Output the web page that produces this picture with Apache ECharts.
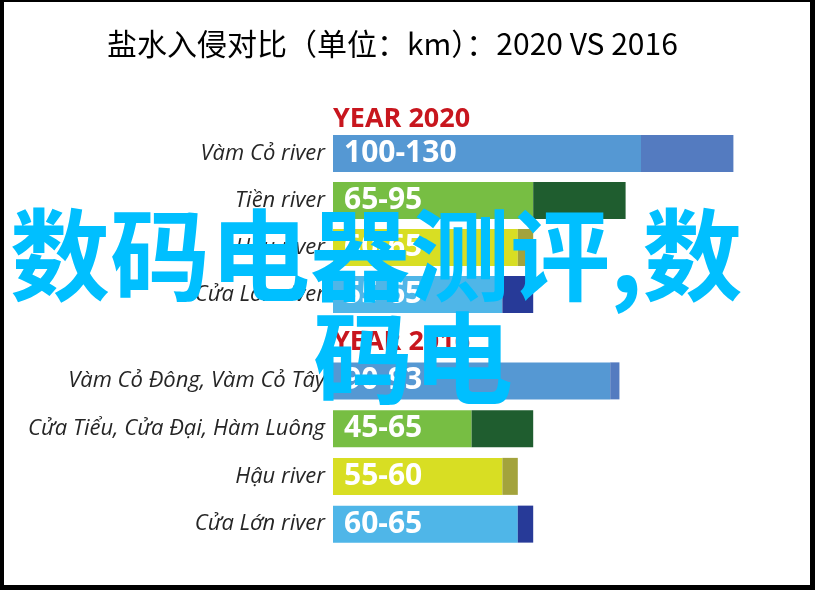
<!DOCTYPE html>
<html>
<head>
<meta charset="utf-8">
<script src="https://cdn.jsdelivr.net/npm/echarts@6/dist/echarts.min.js"></script>
<style>html,body{margin:0;padding:0;background:#fff}#c{width:815px;height:590px}</style>
</head>
<body>
<div id="c"></div>
<script>
// ---- data ----
const rivers2020 = ['Vàm Cỏ river', 'Tiền river', 'Hậu river', 'Cửa Lớn river'];
const low2020 = [100, 65, 60, 55];
const high2020 = [130, 95, 65, 65];
const rivers2016 = ['Vàm Cỏ Đông, Vàm Cỏ Tây', 'Cửa Tiểu, Cửa Đại, Hàm Luông', 'Hậu river', 'Cửa Lớn river'];
const low2016 = [90, 45, 55, 60];
const high2016 = [93, 65, 60, 65];
const titleText = '盐水入侵对比（单位：km）：2020 VS 2016';
const yearLabels = ['YEAR 2020', 'YEAR 2016'];
const watermark = ['数码电器测评,数', '码电'];

// ---- styles ----
const mainColors = ['#5598d3', '#77be43', '#d8de23', '#4fb6e8'];
const darkColors = ['#547bc0', '#1f5d2f', '#a3a33c', '#273a98'];

const chart = echarts.init(document.getElementById('c'));

function grid(top, height) {
  return { left: 333, right: 20, top: top, height: height, containLabel: false };
}
function xAx(gi) {
  return { type: 'value', gridIndex: gi, min: 0, max: 150, show: false };
}
function yAx(gi, cats) {
  return {
    type: 'category', gridIndex: gi, data: cats, inverse: true,
    axisLine: { show: false }, axisTick: { show: false }, splitLine: { show: false },
    axisLabel: {
      margin: 8, color: '#262626', fontFamily: 'Open Sans', fontStyle: 'italic', fontSize: 22
    }
  };
}
function seriesFor(gi, low, high) {
  const stack = 's' + gi;
  return [
    {
      type: 'bar', xAxisIndex: gi, yAxisIndex: gi, stack: stack, barWidth: 37,
      data: low.map((v, i) => ({ value: v, itemStyle: { color: mainColors[i] } })),
      label: {
        show: true, position: 'insideLeft', distance: 11, color: '#fff',
        fontFamily: 'Open Sans', fontWeight: 'bold', fontSize: 30,
        formatter: p => low[p.dataIndex] + '-' + high[p.dataIndex]
      },
      silent: true
    },
    {
      type: 'bar', xAxisIndex: gi, yAxisIndex: gi, stack: stack, barWidth: 37,
      data: high.map((v, i) => ({ value: v - low[i], itemStyle: { color: darkColors[i] } })),
      silent: true
    }
  ];
}

chart.setOption({
  animation: false,
  grid: [grid(130, 188), grid(357, 191)],
  xAxis: [xAx(0), xAx(1)],
  yAxis: [yAx(0, rivers2020), yAx(1, rivers2016)],
  series: [...seriesFor(0, low2020, high2020), ...seriesFor(1, low2016, high2016)],
  graphic: [
    { type: 'text', left: 107, top: 29, style: { text: titleText, fill: '#000', font: '30px "Noto Sans CJK SC"' } },
    { type: 'text', left: 333, top: 106, style: { text: yearLabels[0], fill: '#c8161e', font: 'bold 27px "Open Sans"' } },
    { type: 'text', left: 333, top: 329, style: { text: yearLabels[1], fill: '#c8161e', font: 'bold 27px "Open Sans"' } },
    { type: 'text', left: 10, top: 205, z: 100, style: { text: watermark[0], fill: '#00bfff', font: 'bold 100px "Noto Sans CJK SC"' } },
    { type: 'text', left: 313, top: 308, z: 100, style: { text: watermark[1], fill: '#00bfff', font: 'bold 100px "Noto Sans CJK SC"' } },
    { type: 'rect', shape: { x: 0, y: 0, width: 4, height: 590 }, style: { fill: '#000' }, z: 200 },
    { type: 'rect', shape: { x: 0, y: 0, width: 815, height: 2 }, style: { fill: '#000' }, z: 200 },
    { type: 'rect', shape: { x: 810, y: 0, width: 5, height: 590 }, style: { fill: '#000' }, z: 200 },
    { type: 'rect', shape: { x: 0, y: 585, width: 815, height: 5 }, style: { fill: '#000' }, z: 200 }
  ]
});
</script>
</body>
</html>
